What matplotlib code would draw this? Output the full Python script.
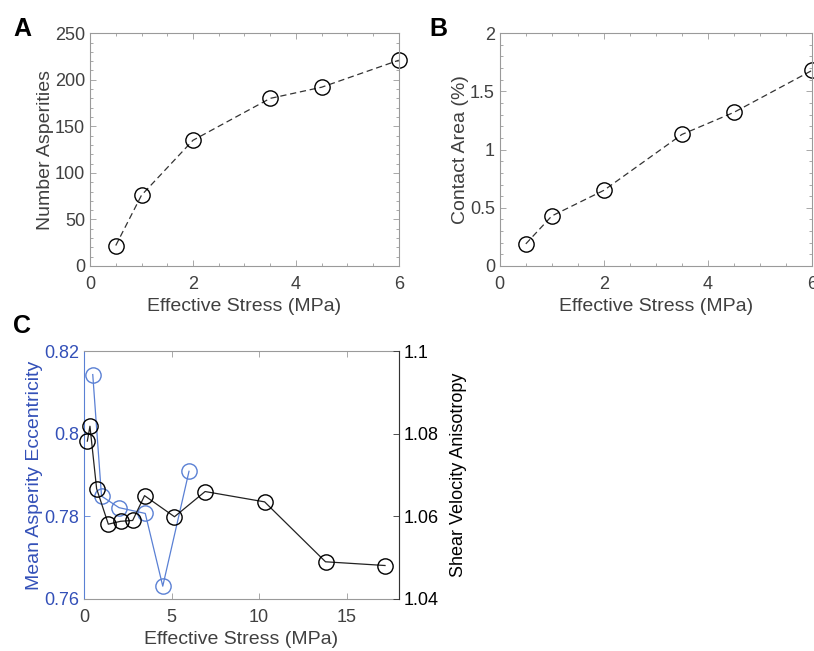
import matplotlib
matplotlib.use("Agg")
import matplotlib.pyplot as plt
from matplotlib.ticker import MultipleLocator

plt.rcParams["font.family"] = ["Liberation Sans", "DejaVu Sans"]

# panel A / B data
stress_ab = [0.5, 1, 2, 3.5, 4.5, 6]
n_asperities = [22, 76, 135, 180, 192, 221]
contact_area = [0.19, 0.43, 0.65, 1.13, 1.32, 1.68]

# panel C data
stress_ecc = [0.5, 1.0, 2.0, 3.5, 4.5, 6.0]
eccentricity = [0.8143, 0.7849, 0.7821, 0.7807, 0.7631, 0.7909]
stress_vel = [0.19, 0.34, 0.72, 1.39, 2.09, 2.78, 3.46, 5.17, 6.92, 10.32, 13.80, 17.2]
anisotropy = [1.0782, 1.0818, 1.0667, 1.0581, 1.0588, 1.0590, 1.0650, 1.0599,
              1.0660, 1.0635, 1.0490, 1.0481]

GRAY = "#9a9a9a"
TXT = "#404040"
BLUE_TXT = "#3350b8"
BLUE_LINE = "#5a80d4"
FS = 13
LFS = 14

fig = plt.figure(figsize=(8.14, 6.51), dpi=100)


def style(ax):
    for s in ax.spines.values():
        s.set_color(GRAY)
        s.set_linewidth(0.8)
    ax.tick_params(which="both", direction="in", top=True, right=True,
                   colors=GRAY, labelcolor=TXT, labelsize=FS)
    ax.tick_params(which="major", length=4, width=0.6)
    ax.tick_params(which="minor", length=2, width=0.6)
    ax.tick_params(axis="x", pad=7)


axA = fig.add_axes([0.1106, 0.5914, 0.3794, 0.3576])
axA.plot(stress_ab, n_asperities, "--", color="#333333", lw=0.9, dashes=(5, 3),
         marker="o", mfc="none", mec="black", ms=11, mew=1.0, clip_on=False)
axA.set_xlim(0, 6)
axA.set_ylim(0, 250)
axA.xaxis.set_major_locator(MultipleLocator(2))
axA.xaxis.set_minor_locator(MultipleLocator(0.5))
axA.yaxis.set_major_locator(MultipleLocator(50))
axA.yaxis.set_minor_locator(MultipleLocator(10))
style(axA)
axA.set_xlabel("Effective Stress (MPa)", fontsize=LFS, color=TXT, labelpad=4)
axA.set_ylabel("Number Asperities", fontsize=LFS, color=TXT, labelpad=1)

axB = fig.add_axes([0.614, 0.5914, 0.3835, 0.3576])
axB.plot(stress_ab, contact_area, "--", color="#333333", lw=0.9, dashes=(5, 3),
         marker="o", mfc="none", mec="black", ms=11, mew=1.0, clip_on=False)
axB.set_xlim(0, 6)
axB.set_ylim(0, 2)
axB.xaxis.set_major_locator(MultipleLocator(2))
axB.xaxis.set_minor_locator(MultipleLocator(0.5))
axB.yaxis.set_minor_locator(MultipleLocator(0.1))
axB.set_yticks([0, 0.5, 1, 1.5, 2])
axB.set_yticklabels(["0", "0.5", "1", "1.5", "2"])
style(axB)
axB.set_xlabel("Effective Stress (MPa)", fontsize=LFS, color=TXT, labelpad=4)
axB.set_ylabel("Contact Area (%)", fontsize=LFS, color=TXT, labelpad=1)

axC = fig.add_axes([0.1032, 0.0799, 0.3870, 0.3809])
axC.plot(stress_ecc, eccentricity, "-", color=BLUE_LINE, lw=0.9,
         marker="o", mfc="none", mec=BLUE_LINE, ms=11, mew=1.0, clip_on=False)
axC.set_xlim(0, 18)
axC.set_ylim(0.76, 0.82)
axC.set_xticks([0, 5, 10, 15])
axC.set_yticks([0.76, 0.78, 0.80, 0.82])
axC.set_yticklabels(["0.76", "0.78", "0.8", "0.82"])
for s in axC.spines.values():
    s.set_color(GRAY)
    s.set_linewidth(0.8)
axC.spines["left"].set_color(BLUE_LINE)
axC.tick_params(direction="in", top=True, right=False, length=4, width=0.6,
                colors=GRAY, labelcolor=TXT, labelsize=FS)
axC.tick_params(axis="x", pad=7)
axC.tick_params(axis="y", colors=BLUE_LINE, labelcolor=BLUE_TXT)
axC.set_xlabel("Effective Stress (MPa)", fontsize=LFS, color=TXT, labelpad=4)
axC.set_ylabel("Mean Asperity Eccentricity", fontsize=LFS, color=BLUE_TXT, labelpad=1)

axC2 = axC.twinx()
axC2.plot(stress_vel, anisotropy, "-", color="#222222", lw=0.9,
          marker="o", mfc="none", mec="black", ms=11, mew=1.0, clip_on=False)
axC2.set_ylim(1.04, 1.1)
axC2.set_yticks([1.04, 1.06, 1.08, 1.1])
axC2.set_yticklabels(["1.04", "1.06", "1.08", "1.1"])
for s in axC2.spines.values():
    s.set_visible(False)
axC2.spines["right"].set_visible(True)
axC2.spines["right"].set_color("#333333")
axC2.spines["right"].set_linewidth(0.8)
axC2.tick_params(direction="in", length=4, width=0.6, colors="#333333",
                 labelcolor="black", labelsize=FS)
axC2.set_ylabel("Shear Velocity Anisotropy", fontsize=FS, color="black", labelpad=8)

fig.text(0.016, 0.945, "A", fontsize=18, fontweight="bold")
fig.text(0.527, 0.945, "B", fontsize=18, fontweight="bold")
fig.text(0.016, 0.488, "C", fontsize=18, fontweight="bold")

fig.savefig("out.png", dpi=100)
